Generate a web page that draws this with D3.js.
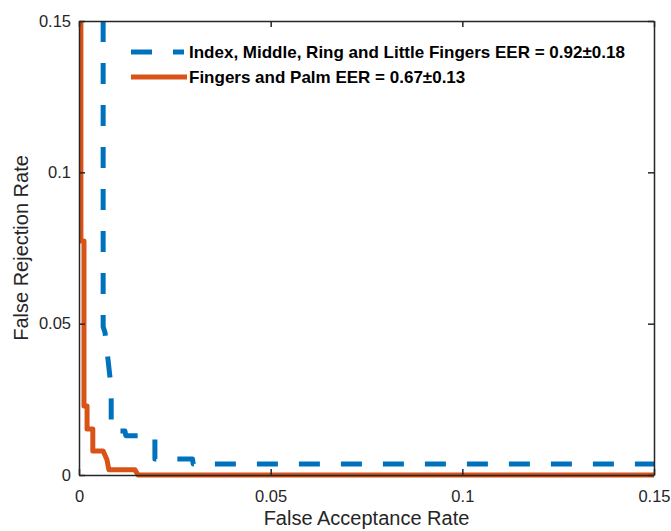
<!DOCTYPE html>
<html><head><meta charset="utf-8">
<script src="https://cdn.jsdelivr.net/npm/d3@7"></script>
<style>body{margin:0;background:#fff}svg{display:block}</style>
</head><body><svg id="c" width="671" height="531"></svg>
<script>
const xTicks = [0, 0.05, 0.1, 0.15];
const yTicks = [0, 0.05, 0.1, 0.15];
const xTickLabels = ["0", "0.05", "0.1", "0.15"];
const yTickLabels = ["0", "0.05", "0.1", "0.15"];
const seriesNames = ["Index, Middle, Ring and Little Fingers EER = 0.92\u00b10.18", "Fingers and Palm EER = 0.67\u00b10.13"];
// Series 1 (blue dashed): Index, Middle, Ring and Little Fingers
const farBlue = [0.0063, 0.0063, 0.0068, 0.0074, 0.0082, 0.0084, 0.0084, 0.0120, 0.0122, 0.0198, 0.0198, 0.0296, 0.0298, 0.15];
const frrBlue = [0.15, 0.049, 0.047, 0.040, 0.031, 0.025, 0.0145, 0.0145, 0.0130, 0.0130, 0.0053, 0.0053, 0.0036, 0.0036];
// Series 2 (orange solid): Fingers and Palm
const farOrange = [0.0005, 0.0005, 0.0013, 0.0013, 0.0021, 0.0021, 0.0036, 0.0036, 0.0063, 0.0073, 0.0078, 0.0146, 0.0154, 0.15];
const frrOrange = [0.15, 0.0773, 0.0773, 0.0228, 0.0228, 0.0152, 0.0152, 0.0079, 0.0079, 0.005, 0.0017, 0.0017, 0.0, 0.0];

const W = 671, H = 531;
const m = {l: 79, r: 17, t: 21, b: 56};
const svg = d3.select("#c");
const x = d3.scaleLinear().domain([0, 0.15]).range([m.l, W - m.r]);
const y = d3.scaleLinear().domain([0, 0.15]).range([H - m.b, m.t]);
const axCol = "#262626";
const font = "'Liberation Sans', Arial, sans-serif";

svg.append("defs").append("clipPath").attr("id", "clip")
  .append("rect").attr("x", m.l).attr("y", m.t - 3).attr("width", x(0.15) - m.l).attr("height", y(0) - m.t + 6);

const line = d3.line().x(d => x(d[0])).y(d => y(d[1]));
const g = svg.append("g").attr("clip-path", "url(#clip)");
g.append("path").datum(farBlue.map((v, i) => [v, frrBlue[i]]))
  .attr("d", line).attr("fill", "none").attr("stroke", "#0072BD").attr("stroke-width", 5)
  .attr("stroke-dasharray", "21,21").attr("stroke-linejoin", "round");
g.append("path").datum(farOrange.map((v, i) => [v, frrOrange[i]]))
  .attr("d", line).attr("fill", "none").attr("stroke", "#D95319").attr("stroke-width", 5)
  .attr("stroke-linejoin", "round");

// axes
const tl = 6;
const xb = svg.append("g").attr("transform", `translate(0,${y(0)})`)
  .call(d3.axisBottom(x).tickValues(xTicks).tickFormat((d, i) => xTickLabels[i]).tickSizeInner(-tl).tickSizeOuter(0).tickPadding(15));
const xt = svg.append("g").attr("transform", `translate(0,${y(0.15)})`)
  .call(d3.axisTop(x).tickValues(xTicks).tickFormat("").tickSizeInner(-tl).tickSizeOuter(0));
const yl = svg.append("g").attr("transform", `translate(${x(0)},0)`)
  .call(d3.axisLeft(y).tickValues(yTicks).tickFormat((d, i) => yTickLabels[i]).tickSizeInner(-tl).tickSizeOuter(0).tickPadding(8));
const yr = svg.append("g").attr("transform", `translate(${x(0.15)},0)`)
  .call(d3.axisRight(y).tickValues(yTicks).tickFormat("").tickSizeInner(-tl).tickSizeOuter(0));
[xb, xt, yl, yr].forEach(a => {
  a.selectAll("path").attr("stroke", axCol).attr("stroke-width", 1.5);
  a.selectAll("line").attr("stroke", axCol).attr("stroke-width", 1.5);
  a.selectAll("text").attr("fill", axCol).style("font-family", font).style("font-size", "16.5px");
});

svg.append("text").attr("x", (x(0) + x(0.15)) / 2).attr("y", 525)
  .attr("text-anchor", "middle").attr("fill", axCol)
  .style("font-family", font).style("font-size", "20px").text("False Acceptance Rate");
svg.append("text").attr("transform", `translate(28,${(y(0) + y(0.15)) / 2}) rotate(-90)`)
  .attr("text-anchor", "middle").attr("fill", axCol)
  .style("font-family", font).style("font-size", "20px").text("False Rejection Rate");

// legend
const leg = svg.append("g");
const ly = [52, 77];
leg.append("line").attr("x1", 131).attr("x2", 184).attr("y1", ly[0]).attr("y2", ly[0])
  .attr("stroke", "#0072BD").attr("stroke-width", 5).attr("stroke-dasharray", "21,21");
leg.append("line").attr("x1", 131).attr("x2", 187).attr("y1", ly[1]).attr("y2", ly[1])
  .attr("stroke", "#D95319").attr("stroke-width", 5);
seriesNames.forEach((s, i) => {
  leg.append("text").attr("x", 189).attr("y", ly[i]).attr("dy", "0.35em")
    .attr("fill", "#000").style("font-family", font).style("font-size", "17px").style("font-weight", "bold").text(s);
});
</script></body></html>
